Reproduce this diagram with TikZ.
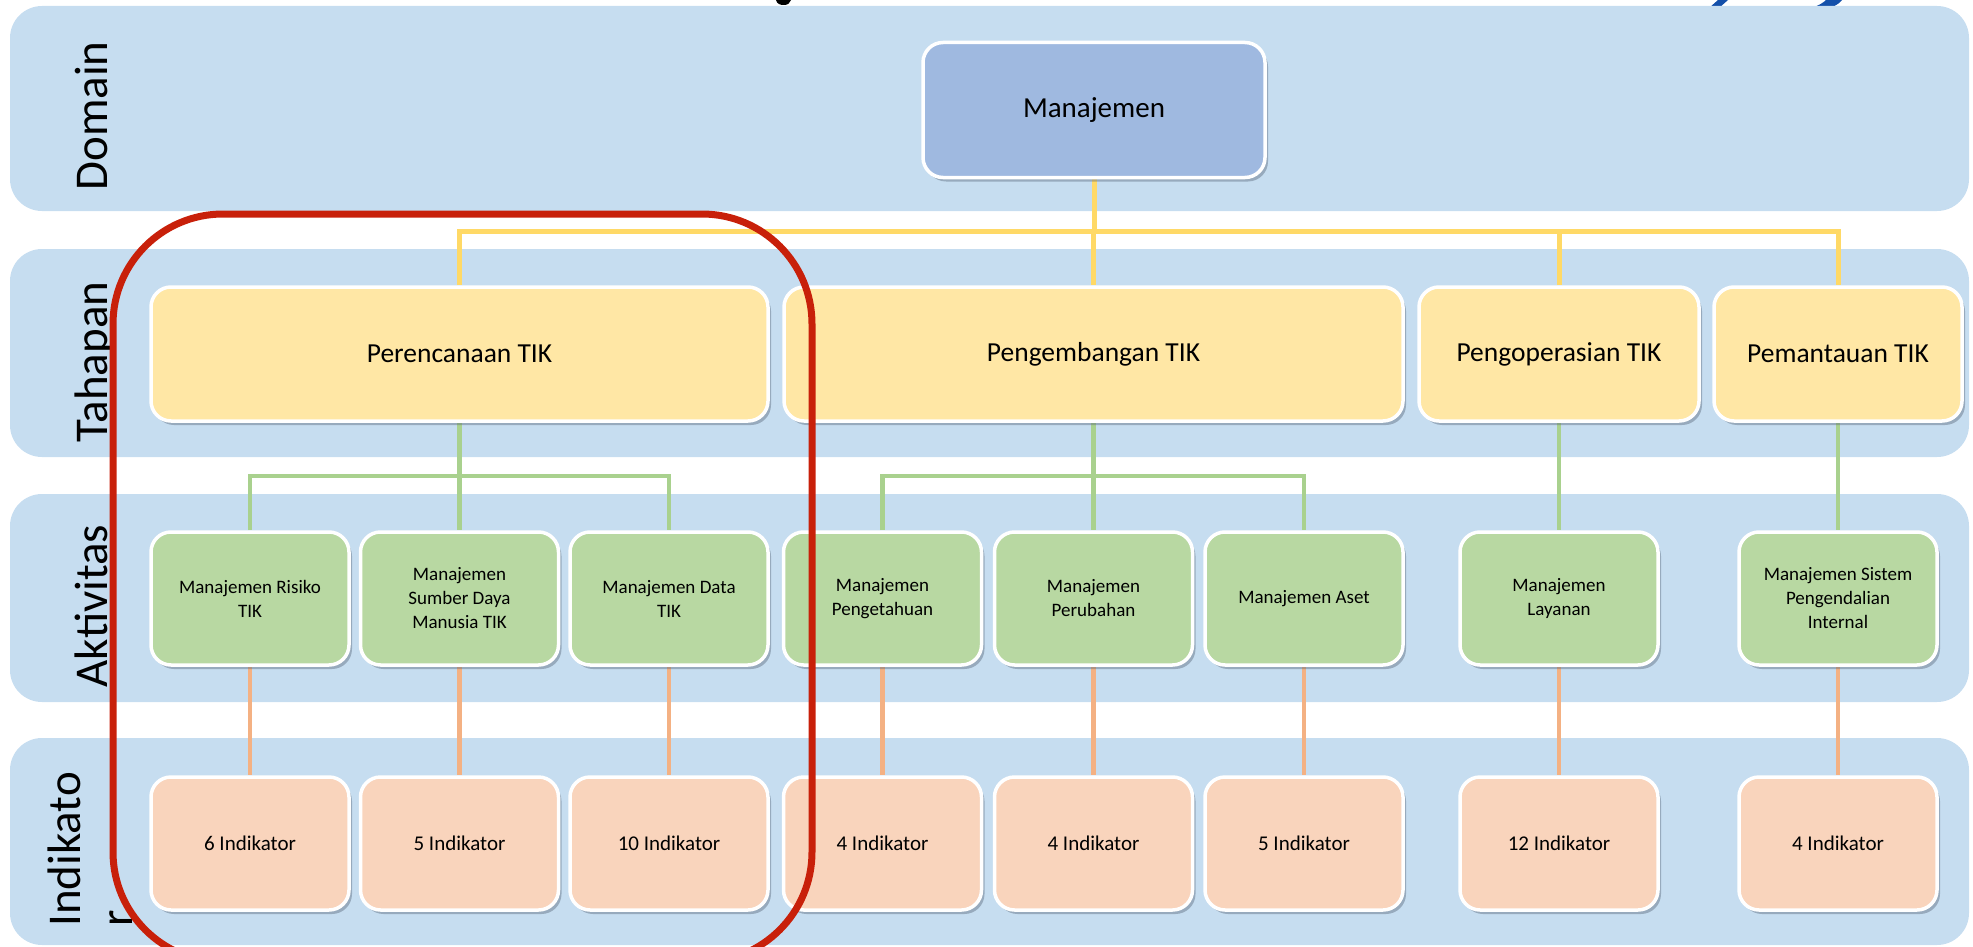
\documentclass[tikz,border=0pt]{standalone}
\usepackage{fontspec}
\setmainfont{Carlito}
\usetikzlibrary{shadows}

\definecolor{bandc}{HTML}{C6DDF0}
\definecolor{domc}{HTML}{9FB9E0}
\definecolor{tahc}{HTML}{FFE7A5}
\definecolor{aktc}{HTML}{B8D8A2}
\definecolor{indc}{HTML}{F9D4BC}
\definecolor{ylinec}{HTML}{FFD966}
\definecolor{glinec}{HTML}{A9D18E}
\definecolor{olinec}{HTML}{F4B183}
\definecolor{framec}{HTML}{C8200A}
\definecolor{shadec}{HTML}{5E6E80}
\definecolor{titleblue}{HTML}{1450AA}

\pgfdeclarelayer{bands}
\pgfdeclarelayer{links}
\pgfsetlayers{bands,links,main}

\begin{document}
\begin{tikzpicture}[x=1pt,y=-1pt,
  band/.style={fill=bandc, rounded corners=32pt},
  card/.style={rounded corners=20pt, draw=white, line width=3.5pt,
    inner sep=0pt, align=center, text=black,
    drop shadow={shadow xshift=3pt, shadow yshift=-4pt, fill=shadec, opacity=0.45}},
  domcard/.style={card, fill=domc, minimum width=342pt, minimum height=135pt,
    font=\fontsize{29pt}{35pt}\selectfont},
  tahcard/.style={card, fill=tahc, minimum height=134pt,
    font=\fontsize{27.5pt}{33pt}\selectfont},
  aktcard/.style={card, fill=aktc, minimum width=198pt, minimum height=133pt,
    font=\fontsize{19pt}{24pt}\selectfont},
  indcard/.style={card, fill=indc, minimum width=198pt, minimum height=133pt,
    font=\fontsize{21pt}{25pt}\selectfont},
  rowlabel/.style={rotate=90, inner sep=0pt, font=\fontsize{47pt}{56pt}\selectfont},
  yl/.style={draw=ylinec, line width=5pt},
  gl/.style={draw=glinec, line width=4.5pt},
  ol/.style={draw=olinec, line width=4.5pt}]

\useasboundingbox (0,0) rectangle (1973,947);

% bands and the ends of the title line above them
\begin{pgfonlayer}{bands}
  \fill[black] (776,0) .. controls (777,4) and (780,5) .. (784,5)
    .. controls (788,5) and (790,3) .. (791,0) -- cycle;
  \fill[titleblue] (1718,0) -- (1728,0) -- (1719,8) -- (1709,8) -- cycle;
  \fill[titleblue] (1826,0) -- (1842,0) .. controls (1838,5) and (1832,8) .. (1826,8)
    -- (1811,8) .. controls (1818,6) and (1823,3) .. cycle;
  \fill[band] (10,6) rectangle (1969,211);
  \fill[band] (10,249) rectangle (1969,457);
  \fill[band] (10,494) rectangle (1969,702);
  \fill[band] (10,738) rectangle (1969,945);
\end{pgfonlayer}

% row labels
\node[rowlabel, anchor=base] (ldom) at (107,116) {Domain};
\node[rowlabel, anchor=base] (ltah) at (107,362) {Tahapan};
\node[rowlabel, anchor=base] (lakt) at (107,606) {Aktivitas};
\node[rowlabel, anchor=base west] (lind) at (80,927) {Indikato};
\node[rowlabel, anchor=base west] (lind2) at (132,927) {r};

% domain
\node[domcard] (man) at (1094,110) {Manajemen};

% stages
\node[tahcard, minimum width=617pt] (per) at (459.5,354) {Perencanaan TIK};
\node[tahcard, minimum width=619pt] (pgb) at (1093.5,354) {Pengembangan TIK};
\node[tahcard, minimum width=280pt] (ops) at (1559,354) {Pengoperasian TIK};
\node[tahcard, minimum width=248pt] (pem) at (1838,354) {Pemantauan TIK};

% activities
\node[aktcard] (a1) at (250,598.5) {Manajemen Risiko\\TIK};
\node[aktcard] (a2) at (459.5,598.5) {Manajemen\\Sumber Daya\\Manusia TIK};
\node[aktcard] (a3) at (669,598.5) {Manajemen Data\\TIK};
\node[aktcard] (a4) at (882.5,598.5) {Manajemen\\Pengetahuan};
\node[aktcard] (a5) at (1093.5,598.5) {Manajemen\\Perubahan};
\node[aktcard] (a6) at (1304,598.5) {Manajemen Aset};
\node[aktcard] (a7) at (1559,598.5) {Manajemen\\Layanan};
\node[aktcard] (a8) at (1838,598.5) {Manajemen Sistem\\Pengendalian\\Internal};

% indicators
\node[indcard] (i1) at (250,843.5) {6 Indikator};
\node[indcard] (i2) at (459.5,843.5) {5 Indikator};
\node[indcard] (i3) at (669,843.5) {10 Indikator};
\node[indcard] (i4) at (882.5,843.5) {4 Indikator};
\node[indcard] (i5) at (1093.5,843.5) {4 Indikator};
\node[indcard] (i6) at (1304,843.5) {5 Indikator};
\node[indcard] (i7) at (1559,843.5) {12 Indikator};
\node[indcard] (i8) at (1838,843.5) {4 Indikator};

% connectors
\coordinate (tbus) at (0,231);
\coordinate (abus) at (0,476);
\begin{pgfonlayer}{links}
  \draw[yl] (man.south) -- (man.south |- tbus);
  \draw[yl] (per.north) -- (per.north |- tbus) -- (pem.north |- tbus) -- (pem.north);
  \draw[yl] (pgb.north) -- (pgb.north |- tbus);
  \draw[yl] (ops.north) -- (ops.north |- tbus);

  \draw[gl] (per.south) -- (a2.north);
  \draw[gl] (a1.north) -- (a1.north |- abus) -- (a3.north |- abus) -- (a3.north);
  \draw[gl] (pgb.south) -- (a5.north);
  \draw[gl] (a4.north) -- (a4.north |- abus) -- (a6.north |- abus) -- (a6.north);
  \draw[gl] (ops.south) -- (a7.north);
  \draw[gl] (pem.south) -- (a8.north);

  \foreach \k in {1,...,8} {
    \draw[ol] (a\k.south) -- (i\k.north);
  }
\end{pgfonlayer}

% highlight frame round the planning stage, running off the lower edge
\begin{scope}
  \clip (0,0) rectangle (1973,947);
  \draw[framec, line width=7pt, rounded corners=110pt] (113,214) rectangle (812,962);
\end{scope}

\end{tikzpicture}
\end{document}
